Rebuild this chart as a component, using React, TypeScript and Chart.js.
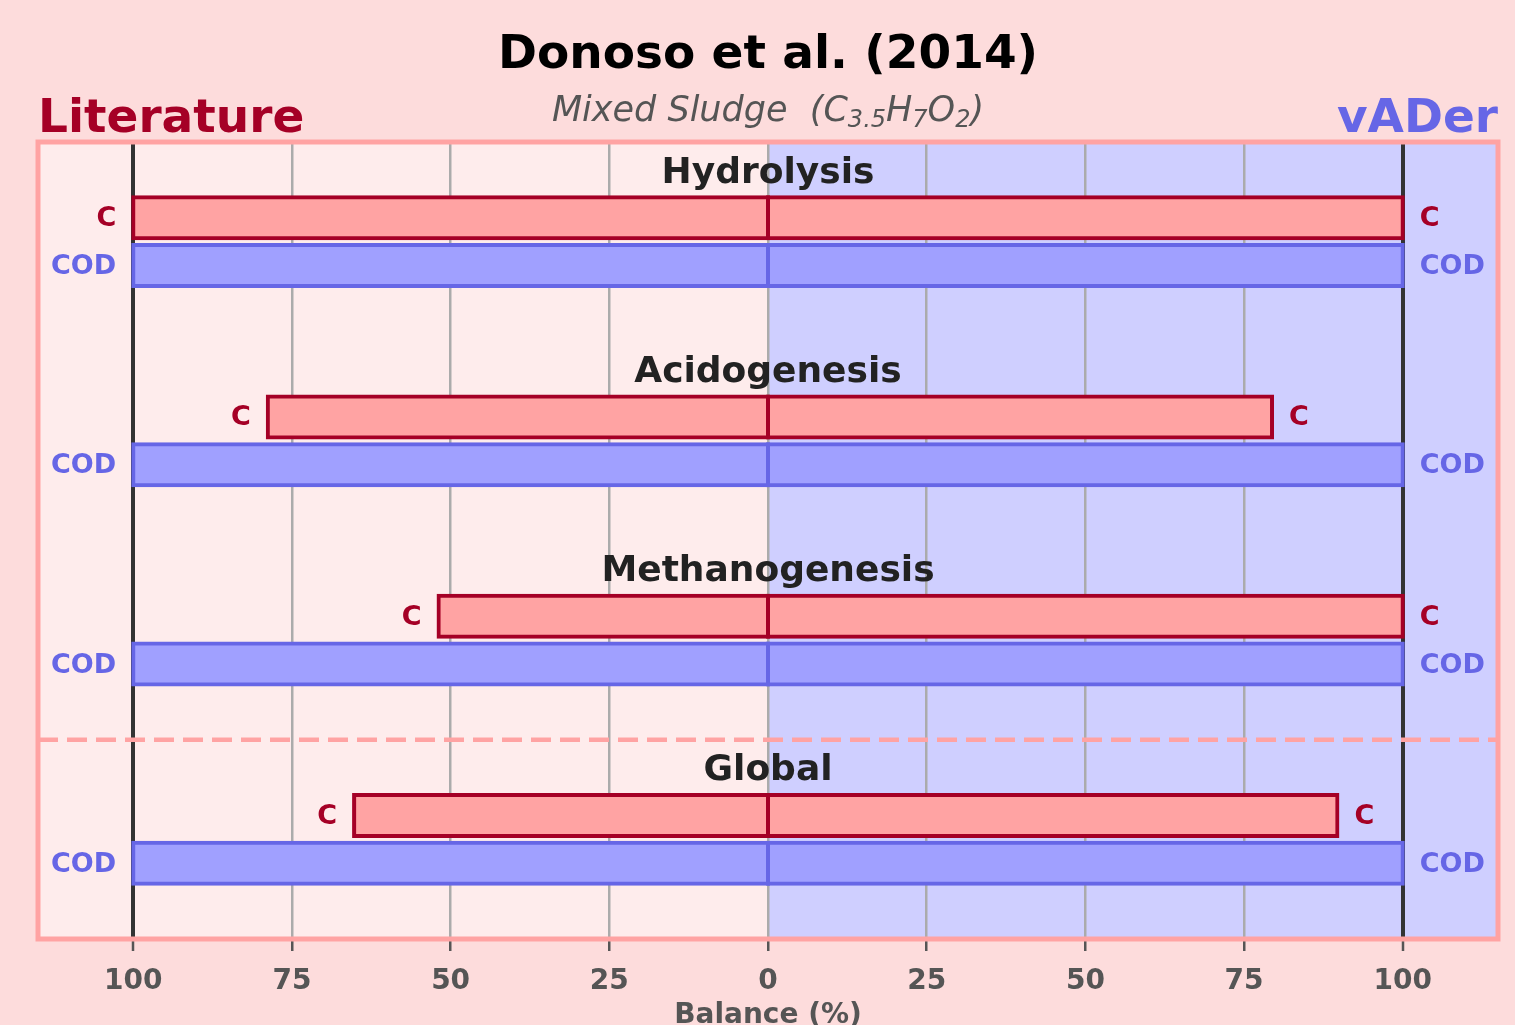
import React, { useEffect, useRef } from 'react';
import { Chart, registerables } from 'chart.js';

Chart.register(...registerables);

// ---- data ----
const categories = ['Hydrolysis', 'Acidogenesis', 'Methanogenesis', 'Global'];
const literatureC = [100, 78.8, 51.9, 65.2];
const vaderC = [100, 79.4, 100, 89.7];
const literatureCOD = [100, 100, 100, 100];
const vaderCOD = [100, 100, 100, 100];
const xTickValues = [-100, -75, -50, -25, 0, 25, 50, 75, 100];
const titleText = 'Donoso et al. (2014)';
const subtitleParts = [
  { t: 'Mixed Sludge  (C', sub: false },
  { t: '3.5', sub: true },
  { t: 'H', sub: false },
  { t: '7', sub: true },
  { t: 'O', sub: false },
  { t: '2', sub: true },
  { t: ')', sub: false },
];
const leftHeader = 'Literature';
const rightHeader = 'vADer';
const xTitle = 'Balance (%)';

const FONT = "'DejaVu Sans', sans-serif";
const RED_EDGE = '#A50026';
const RED_FILL = '#FFA3A3';
const BLUE_EDGE = '#6666E6';
const BLUE_FILL = '#A0A0FF';

const C_OFF = 0.38;
const COD_OFF = 0.62;
const LABEL_OFF = 0.204;

export default function App() {
  const ref = useRef<HTMLCanvasElement>(null);

  useEffect(() => {
    document.body.style.margin = '0';
    const canvas = ref.current;
    if (!canvas) return;

    const halfBars = (vals: number[], side: number, off: number) =>
      categories.map((_, i) => ({
        y: i + off,
        x: side < 0 ? [-vals[i], 0] : [0, vals[i]],
      }));

    const decor = {
      id: 'decor',
      beforeDraw(chart: any) {
        const { ctx, chartArea: a, scales } = chart;
        const x = scales.x;
        ctx.save();
        ctx.fillStyle = '#FDDCDC';
        ctx.fillRect(0, 0, chart.width, chart.height);
        const x0 = x.getPixelForValue(0);
        ctx.fillStyle = '#FEECEC';
        ctx.fillRect(a.left, a.top, x0 - a.left, a.bottom - a.top);
        ctx.fillStyle = '#CFCFFF';
        ctx.fillRect(x0, a.top, a.right - x0, a.bottom - a.top);
        ctx.restore();
      },
      afterDraw(chart: any) {
        const { ctx, chartArea: a, scales } = chart;
        const x = scales.x;
        const y = scales.y;
        const x0 = x.getPixelForValue(0);
        const cx = (a.left + a.right) / 2;
        ctx.save();

        // dashed separator before "Global"
        const ySep = y.getPixelForValue(categories.length - 1);
        ctx.strokeStyle = RED_FILL;
        ctx.lineWidth = 4.5;
        ctx.setLineDash([20, 9]);
        ctx.beginPath();
        ctx.moveTo(a.left, ySep);
        ctx.lineTo(a.right, ySep);
        ctx.stroke();
        ctx.setLineDash([]);

        // frame
        ctx.strokeStyle = RED_FILL;
        ctx.lineWidth = 5;
        ctx.strokeRect(a.left, a.top, a.right - a.left, a.bottom - a.top);

        // group labels & bar labels
        ctx.textBaseline = 'alphabetic';
        categories.forEach((cat, i) => {
          ctx.font = `bold 36px ${FONT}`;
          ctx.fillStyle = '#222222';
          ctx.textAlign = 'center';
          ctx.fillText(cat, x0, y.getPixelForValue(i + LABEL_OFF));

          ctx.font = `bold 27px ${FONT}`;
          const yc = y.getPixelForValue(i + C_OFF) + 8.5;
          const yd = y.getPixelForValue(i + COD_OFF) + 8.5;
          ctx.fillStyle = RED_EDGE;
          ctx.textAlign = 'right';
          ctx.fillText('C', x.getPixelForValue(-literatureC[i]) - 17, yc);
          ctx.textAlign = 'left';
          ctx.fillText('C', x.getPixelForValue(vaderC[i]) + 17, yc);
          ctx.fillStyle = BLUE_EDGE;
          ctx.textAlign = 'right';
          ctx.fillText('COD', x.getPixelForValue(-literatureCOD[i]) - 17, yd);
          ctx.textAlign = 'left';
          ctx.fillText('COD', x.getPixelForValue(vaderCOD[i]) + 17, yd);
        });

        // title
        ctx.font = `bold 47px ${FONT}`;
        ctx.fillStyle = '#000000';
        ctx.textAlign = 'center';
        ctx.fillText(titleText, cx, 68);

        // headers
        ctx.fillStyle = RED_EDGE;
        ctx.textAlign = 'left';
        ctx.fillText(leftHeader, a.left, 131.5);
        ctx.fillStyle = BLUE_EDGE;
        ctx.textAlign = 'right';
        ctx.fillText(rightHeader, a.right, 131.5);

        // subtitle with subscripts
        const mainFont = `italic 35px ${FONT}`;
        const subFont = `italic 24px ${FONT}`;
        let total = 0;
        const widths = subtitleParts.map((p) => {
          ctx.font = p.sub ? subFont : mainFont;
          const w = ctx.measureText(p.t).width;
          total += w;
          return w;
        });
        let sx = cx - total / 2;
        ctx.fillStyle = '#555555';
        ctx.textAlign = 'left';
        subtitleParts.forEach((p, k) => {
          ctx.font = p.sub ? subFont : mainFont;
          ctx.fillText(p.t, sx, p.sub ? 126.5 : 120.7);
          sx += widths[k];
        });

        // x title
        ctx.font = `bold 28px ${FONT}`;
        ctx.fillStyle = '#555555';
        ctx.textAlign = 'center';
        ctx.fillText(xTitle, x0, 1023);

        ctx.restore();
      },
    };

    const chart = new Chart(canvas, {
      type: 'bar',
      data: {
        datasets: [
          {
            label: 'C literature',
            data: halfBars(literatureC, -1, C_OFF) as any,
            backgroundColor: RED_FILL,
            borderColor: RED_EDGE,
          },
          {
            label: 'C vADer',
            data: halfBars(vaderC, 1, C_OFF) as any,
            backgroundColor: RED_FILL,
            borderColor: RED_EDGE,
          },
          {
            label: 'COD literature',
            data: halfBars(literatureCOD, -1, COD_OFF) as any,
            backgroundColor: BLUE_FILL,
            borderColor: BLUE_EDGE,
          },
          {
            label: 'COD vADer',
            data: halfBars(vaderCOD, 1, COD_OFF) as any,
            backgroundColor: BLUE_FILL,
            borderColor: BLUE_EDGE,
          },
        ],
      },
      options: {
        animation: false,
        responsive: false,
        maintainAspectRatio: false,
        devicePixelRatio: 1,
        indexAxis: 'y',
        layout: { padding: { top: 142, left: 38, right: 17, bottom: 0 } },
        datasets: {
          bar: {
            grouped: false,
            barThickness: 41,
            borderWidth: 4,
            borderSkipped: false,
            inflateAmount: 2,
          } as any,
        },
        plugins: {
          legend: { display: false },
          tooltip: { enabled: false },
          title: { display: false },
        },
        scales: {
          y: {
            type: 'linear',
            min: 0,
            max: categories.length,
            reverse: true,
            offset: false,
            display: false,
            grid: { offset: false },
          },
          x: {
            type: 'linear',
            min: -115,
            max: 115,
            offset: false,
            afterBuildTicks: (scale: any) => {
              scale.ticks = xTickValues.map((v) => ({ value: v }));
              // keep bars anchored exactly at their values (no half-gridline shift)
              scale.getLineWidthForValue = () => 0;
            },
            afterFit: (scale: any) => {
              scale.height = 86;
            },
            border: { display: false },
            grid: {
              offset: false,
              color: (c: any) =>
                c.tick && Math.abs(c.tick.value) === 100 ? '#333333' : '#ABABAB',
              lineWidth: (c: any) =>
                c.tick && Math.abs(c.tick.value) === 100 ? 4 : 2.5,
              tickColor: '#555555',
              tickWidth: 2.5,
              tickLength: 12,
              drawTicks: true,
            },
            ticks: {
              autoSkip: false,
              maxRotation: 0,
              padding: 14,
              color: '#555555',
              font: { family: FONT, size: 28, weight: 'bold' },
              callback: (v: any) => String(Math.abs(Number(v))),
            },
          },
        },
      },
      plugins: [decor],
    });

    return () => chart.destroy();
  }, []);

  return (
    <div style={{ position: 'fixed', left: 0, top: 0, width: 1515, height: 1025 }}>
      <canvas ref={ref} width={1515} height={1025} style={{ display: 'block', width: 1515, height: 1025 }} />
    </div>
  );
}
